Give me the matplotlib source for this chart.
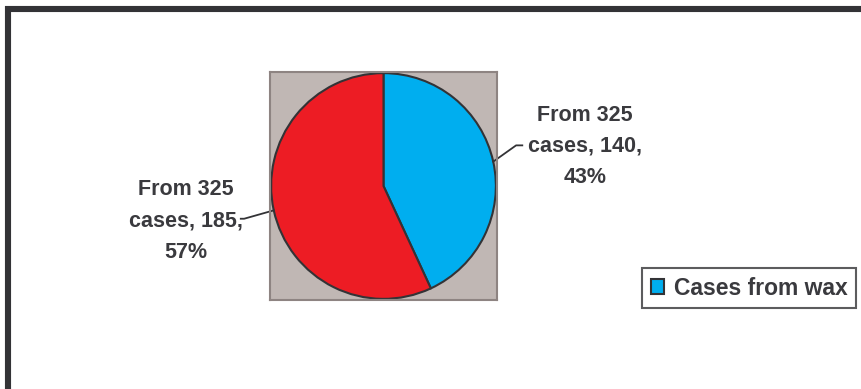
import numpy as np
import matplotlib
matplotlib.use("Agg")
import matplotlib.pyplot as plt
from matplotlib.patches import Patch
from matplotlib.lines import Line2D

plt.rcParams['font.family'] = ['Liberation Sans', 'DejaVu Sans']

categories = ["Cases from wax", ""]
values = [140, 185]
total_label = 325
percents = ["43%", "57%"]
colors = ["#00AEEF", "#ED1C24"]

TEXT_COLOR = "#3A3A3E"
EDGE = "#333336"

fig = plt.figure(figsize=(8.62, 3.89), dpi=100)
fig.patch.set_facecolor("white")

# frame lines (top and left)
fig.add_artist(Line2D([5/862, 1], [1 - 9/389, 1 - 9/389], color=EDGE, lw=4.4, solid_capstyle='butt'))
fig.add_artist(Line2D([8/862, 8/862], [0, 1 - 6/389], color=EDGE, lw=4.4, solid_capstyle='butt'))

ax = fig.add_axes([270/862, (389-300)/389, 227/862, 228/389])

wedges, _ = ax.pie(values, colors=colors, startangle=90, counterclock=False,
                   radius=1.0, center=(0, 0),
                   wedgeprops=dict(edgecolor=EDGE, linewidth=1.5))
ax.set_frame_on(True)
ax.set_facecolor("#C0B7B4")
ax.patch.set_visible(True)
for s in ax.spines.values():
    s.set_visible(True)
    s.set_edgecolor("#8E8482")
    s.set_linewidth(1.5)
ax.set_xticks([]); ax.set_yticks([])
ax.set_xlim(-1.01, 1.01)
ax.set_ylim(-1.01, 1.01)
ax.set_aspect('auto')

# labels with leader lines
cum = np.cumsum([0] + values)
label_cfg = [
    dict(elbow=(1.18, 0.36), end=1.235, text=(1.79, 0.35)),
    dict(elbow=(-1.24, -0.29), end=-1.27, text=(-1.76, -0.31)),
]
for i, v in enumerate(values):
    mid = 90 - (cum[i] + v / 2) / sum(values) * 360
    th = np.deg2rad(mid)
    x0, y0 = np.cos(th), np.sin(th)
    cfg = label_cfg[i]
    ex, ey = cfg['elbow']
    ax.plot([x0, ex, cfg['end']], [y0, ey, ey], color=EDGE, lw=1.3, clip_on=False)
    ax.text(cfg['text'][0], cfg['text'][1],
            f"From {total_label}\ncases, {v},\n{percents[i]}",
            ha='center', va='center', multialignment='center',
            fontsize=15.5, fontweight='bold', color=TEXT_COLOR,
            linespacing=1.65, clip_on=False)

handles = [Patch(facecolor=colors[0], edgecolor=EDGE, linewidth=1.5)]
leg = fig.legend(handles, [categories[0]], loc='upper right',
                 bbox_to_anchor=(856/862, (389-268)/389),
                 frameon=True, fancybox=False, borderaxespad=0,
                 handlelength=0.6, handleheight=0.6, handletextpad=0.4,
                 borderpad=0.38,
                 prop=dict(size=16.5, weight='bold'))
leg.get_frame().set_edgecolor(EDGE)
leg.get_frame().set_linewidth(1.5)
for t in leg.get_texts():
    t.set_color(TEXT_COLOR)

fig.savefig("out.png", dpi=100, facecolor="white")
